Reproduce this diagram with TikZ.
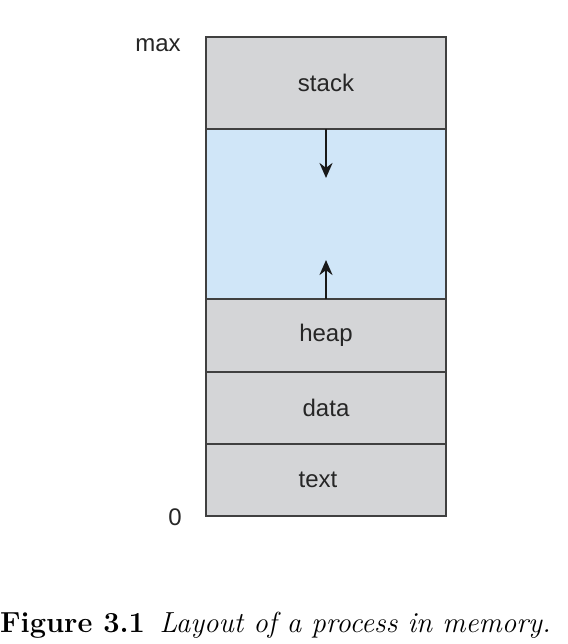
\documentclass[tikz,border=0pt]{standalone}
\usepackage{fontspec}
\setsansfont{Liberation Sans}
\usetikzlibrary{positioning,arrows.meta}
\definecolor{cellgray}{RGB}{212,213,215}
\definecolor{freeblue}{RGB}{208,230,248}
\definecolor{edgegray}{RGB}{64,64,64}

\begin{document}
\begin{tikzpicture}[x=1pt, y=-1pt, node distance=0pt,
		cell/.style={draw=edgegray, line width=1.1pt, minimum width=240pt, inner sep=0pt, outer sep=0pt,
			font=\sffamily\fontsize{24}{28}\selectfont, text=black!85},
		lbl/.style={font=\sffamily\fontsize{24}{28}\selectfont, text=black!85, inner sep=0pt},
		growarrow/.style={-{Stealth[length=15pt, width=13pt]}, line width=2.3pt, draw=black!90}]
	\useasboundingbox (0,0) rectangle (567,644);
		\node[cell, fill=cellgray, minimum height=92pt, anchor=north] (stack) at (326,37) {stack};
		\node[cell, fill=freeblue, minimum height=170pt, below=of stack] (free) {};
		\node[cell, fill=cellgray, minimum height=73pt, below=of free] (heap) {heap};
		\node[cell, fill=cellgray, minimum height=72pt, below=of heap] (data) {data};
		\node[cell, fill=cellgray, minimum height=72pt, below=of data] (text) {\hspace*{-16pt}text};
		
		\coordinate (growdown) at (326,178);
		\coordinate (growup) at (326,260);
		\draw[growarrow] (free.north) -- (growdown);
		\draw[growarrow] (free.south) -- (growup);
		
		\node[lbl, anchor=base] (max) at (158,52) {max};
		\node[lbl, anchor=base] (zero) at (175,525) {0};
		
		\node[anchor=base west, inner sep=0pt, font=\fontsize{29}{33}\selectfont] (caption) at (0,632)
			{\textbf{Figure 3.1}\enspace\textit{Layout of a process in memory.}};
	\end{tikzpicture}
\end{document}
